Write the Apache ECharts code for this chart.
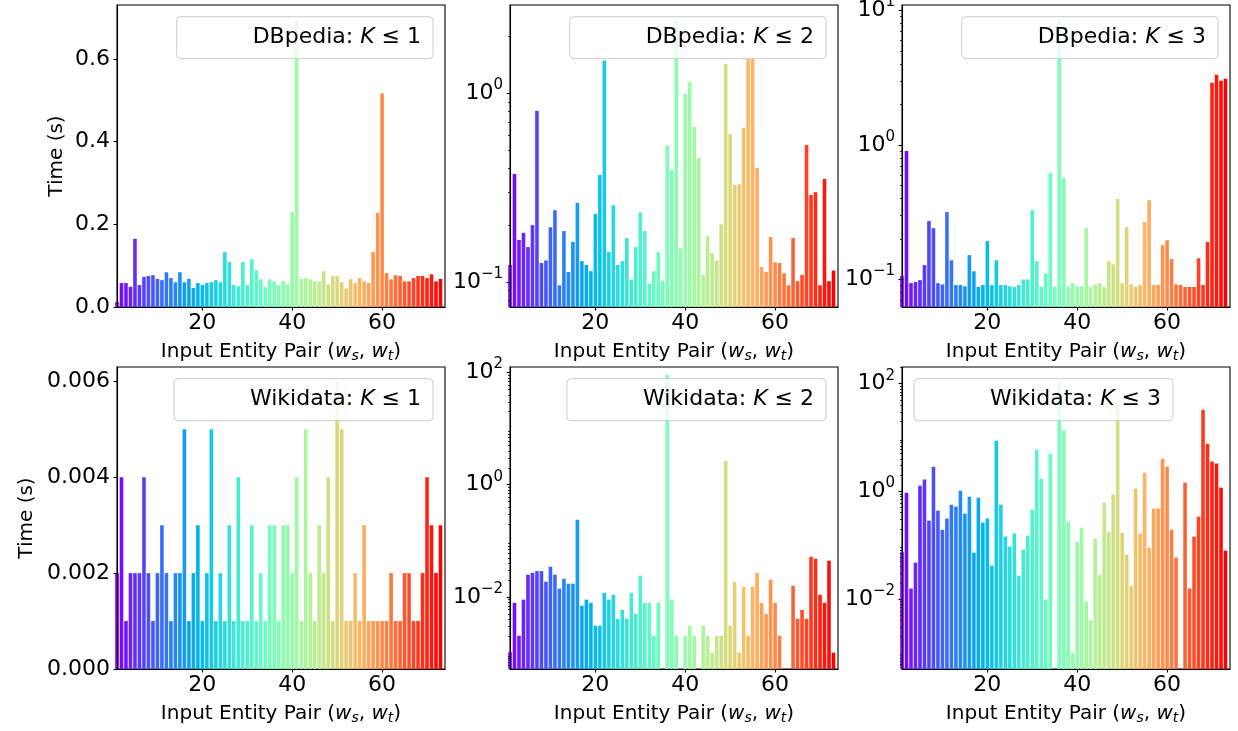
<!DOCTYPE html>
<html><head><meta charset="utf-8">
<script src="https://cdn.jsdelivr.net/npm/echarts@6/dist/echarts.min.js"></script>
<style>html,body{margin:0;padding:0;background:#fff}#c{width:1238px;height:731px}</style>
</head><body><div id="c"></div>
<script>
// ---------------- DATA ----------------
const pairIds = [1,2,3,4,5,6,7,8,9,10,11,12,13,14,15,16,17,18,19,20,21,22,23,24,25,26,27,28,29,30,31,32,33,34,35,36,37,38,39,40,41,42,43,44,45,46,47,48,49,50,51,52,53,54,55,56,57,58,59,60,61,62,63,64,65,66,67,68,69,70,71,72,73];
const xTicks = [20, 40, 60];

const dbpediaK1 = [0.012,0.058,0.058,0.049,0.165,0.053,0.073,0.075,0.077,0.068,0.065,0.084,0.070,0.060,0.084,0.060,0.068,0.046,0.058,0.053,0.058,0.060,0.065,0.060,0.133,0.109,0.053,0.050,0.109,0.053,0.116,0.089,0.067,0.048,0.067,0.062,0.053,0.062,0.055,0.230,0.696,0.068,0.070,0.067,0.062,0.062,0.087,0.055,0.075,0.075,0.060,0.045,0.067,0.058,0.070,0.062,0.058,0.133,0.228,0.517,0.082,0.067,0.077,0.075,0.062,0.062,0.070,0.075,0.075,0.070,0.079,0.062,0.068];
const dbpediaK2 = [0.123,0.373,0.167,0.182,0.153,0.200,0.806,0.126,0.130,0.195,0.240,0.096,0.186,0.113,0.163,0.262,0.129,0.123,0.114,0.229,0.369,1.49,0.144,0.255,0.123,0.129,0.171,0.103,0.153,0.234,0.186,0.098,0.114,0.144,0.101,0.525,0.392,2.45,0.151,0.99,1.15,0.663,0.454,0.109,0.175,0.142,0.130,0.202,1.43,0.608,0.326,0.330,0.655,1.53,1.55,0.401,0.120,0.113,0.173,0.127,0.126,0.111,0.096,0.171,0.101,0.109,0.532,0.289,0.299,0.096,0.351,0.101,0.115];
const dbpediaK3 = [0.106,0.902,0.094,0.096,0.099,0.128,0.272,0.241,0.094,0.092,0.317,0.139,0.091,0.091,0.089,0.152,0.115,0.088,0.091,0.193,0.091,0.139,0.091,0.091,0.089,0.088,0.091,0.100,0.100,0.328,0.137,0.088,0.111,0.619,0.088,8.5,0.568,0.088,0.094,0.089,0.089,0.241,0.088,0.092,0.094,0.088,0.137,0.130,0.396,0.094,0.245,0.092,0.088,0.091,0.267,0.389,0.091,0.091,0.180,0.196,0.142,0.092,0.091,0.088,0.088,0.088,0.144,0.091,0.190,2.90,3.32,3.0,3.10];
const wikidataK1 = [0.002,0.004,0.001,0.002,0.002,0.002,0.004,0.002,0.001,0.002,0.003,0.002,0.001,0.002,0.002,0.005,0.001,0.002,0.003,0.001,0.002,0.005,0.001,0.002,0.001,0.003,0.001,0.004,0.001,0.001,0.003,0.001,0.002,0.001,0.003,0.003,0.001,0.003,0.003,0.002,0.004,0.001,0.005,0.002,0.001,0.003,0.002,0.004,0.001,0.006,0.005,0.001,0.001,0.002,0.001,0.003,0.001,0.001,0.001,0.001,0.001,0.002,0.001,0.001,0.002,0.002,0.001,0.001,0.002,0.004,0.003,0.002,0.003];
const wikidataK2 = [0.00104,0.0079,0.00205,0.0090,0.025,0.027,0.029,0.029,0.0188,0.0347,0.025,0.0141,0.0212,0.0173,0.0173,0.238,0.0070,0.0090,0.0079,0.0031,0.0031,0.0119,0.0090,0.0110,0.0041,0.0059,0.0041,0.0119,0.0050,0.024,0.0079,0.0079,0.00205,0.0079,null,90,0.0090,0.00205,null,0.00205,0.0031,0.00205,null,0.0031,0.00205,0.00102,0.00205,0.00205,2.67,0.0031,0.0188,0.00102,0.0153,0.00205,0.0153,0.0271,0.0079,0.0050,0.0204,0.0079,0.00205,null,null,0.0159,0.0041,0.0059,0.0041,0.0523,0.0481,0.0110,0.0079,0.0444,0.00102];
const wikidataK3 = [0.0736,0.94,0.0156,0.0473,1.27,1.65,0.285,2.87,0.437,0.194,0.311,0.565,0.519,1.03,0.385,0.796,0.0726,0.763,0.262,0.311,0.0416,8.73,0.565,0.144,0.0938,0.164,0.0271,0.0825,0.150,0.456,5.94,1.72,0.0097,5.01,null,105,13.4,0.273,0.0010,0.116,0.211,0.0089,0.0040,0.132,0.0283,0.616,0.178,0.867,42,0.171,0.0666,0.0177,1.12,0.164,2.22,0.0899,0.476,0.476,4.04,2.87,0.194,0.0586,null,1.45,0.0156,0.144,0.338,32.9,7.68,3.56,3.27,1.17,0.0791];

const ticksDbK1 = [0, 0.2, 0.4, 0.6];
const ticksDbK2 = [0.1, 1];
const ticksDbK3 = [0.1, 1, 10];
const ticksWdK1 = [0, 0.002, 0.004, 0.006];
const ticksWdK2 = [0.01, 1, 100];
const ticksWdK3 = [0.01, 1, 100];

// ---------------- LAYOUT / STYLE ----------------
const FONT = 'DejaVu Sans';
const colLeft = [117, 510, 902];
const rowTop = [5, 367];
const GW = 328, GH = 302;
const XMIN = 1, XMAX = 74;
const barW = GW / (XMAX - XMIN) * 0.8;

function rainbow(t) {
  const r = Math.min(1, Math.abs(2 * t - 0.5));
  const g = Math.max(0, Math.sin(Math.PI * t));
  const b = Math.max(0, Math.cos(Math.PI * t / 2));
  return 'rgb(' + Math.round(r * 255) + ',' + Math.round(g * 255) + ',' + Math.round(b * 255) + ')';
}
const barColors = pairIds.map((_, i) => rainbow(i / (pairIds.length - 1)));

const panels = [
  { name: 'DBpedia', k: 1, values: dbpediaK1, log: false, min: 0, max: 0.731, ticks: ticksDbK1, dec: 1, leg: 'right' },
  { name: 'DBpedia', k: 2, values: dbpediaK2, log: true, min: 0.0737, max: 2.93, ticks: ticksDbK2, leg: 'right' },
  { name: 'DBpedia', k: 3, values: dbpediaK3, log: true, min: 0.0625, max: 10.97, ticks: ticksDbK3, leg: 'right' },
  { name: 'Wikidata', k: 1, values: wikidataK1, log: false, min: 0, max: 0.0063, ticks: ticksWdK1, dec: 3, leg: 'right' },
  { name: 'Wikidata', k: 2, values: wikidataK2, log: true, min: 0.000524, max: 124.8, ticks: ticksWdK2, leg: 'right' },
  { name: 'Wikidata', k: 3, values: wikidataK3, log: true, min: 0.0005, max: 204, ticks: ticksWdK3, leg: 'left' }
];

const ctx = document.createElement('canvas').getContext('2d');
function textW(font, s) { ctx.font = font; return ctx.measureText(s).width; }

const axisLineStyle = { color: '#000', width: 1.1 };
const option = { animation: false, backgroundColor: '#fff', grid: [], xAxis: [], yAxis: [], series: [], graphic: [] };

panels.forEach((p, i) => {
  const col = i % 3, row = Math.floor(i / 3);
  const left = colLeft[col], top = rowTop[row];
  option.grid.push({ left: left, top: top, width: GW, height: GH, show: true, borderColor: '#000', borderWidth: 1.1,
    backgroundColor: 'transparent', containLabel: false, outerBoundsMode: 'none' });

  option.xAxis.push({
    type: 'value', gridIndex: i, min: XMIN, max: XMAX, z: 5,
    axisLine: { show: true, onZero: false, lineStyle: axisLineStyle },
    axisTick: { show: true, length: 3.5, lineStyle: axisLineStyle, customValues: xTicks },
    axisLabel: { customValues: xTicks, fontSize: 22, fontFamily: FONT, color: '#000', margin: 5 },
    splitLine: { show: false },
    name: '{n|Input Entity Pair (}{i|w}{s|s}{n|, }{i|w}{s|t}{n|)}',
    nameLocation: 'middle', nameGap: 33,
    nameTextStyle: { rich: {
      n: { fontSize: 20, fontFamily: FONT, color: '#000' },
      i: { fontSize: 20, fontFamily: FONT, fontStyle: 'italic', color: '#000' },
      s: { fontSize: 14, fontFamily: FONT, fontStyle: 'italic', color: '#000', padding: [9, 0, 0, 0] }
    } }
  });

  const yBase = {
    gridIndex: i, min: p.min, max: p.max, z: 5,
    axisLine: { show: true, onZero: false, lineStyle: axisLineStyle },
    splitLine: { show: false },
    nameTextStyle: { fontSize: 20, fontFamily: FONT, color: '#000' }
  };
  if (col === 0) {
    yBase.name = 'Time (s)';
    yBase.nameLocation = 'middle';
    yBase.nameRotate = 90;
    yBase.nameGap = row === 0 ? 50 : 80;
  }
  if (p.log) {
    Object.assign(yBase, {
      type: 'log', logBase: 10, startValue: p.min,
      axisTick: { show: true, length: 3.5, lineStyle: axisLineStyle, customValues: p.ticks },
      minorTick: { show: true, splitNumber: 9, length: 2, lineStyle: { color: '#000', width: 0.8 } },
      axisLabel: {
        customValues: p.ticks, margin: 7, color: '#000',
        formatter: v => {
          const lg = Math.log10(v), e = Math.round(lg);
          if (Math.abs(lg - e) > 1e-6) return '';
          return '{b|10}{e|' + (e < 0 ? '\u2212' + (-e) : e) + '}';
        },
        rich: {
          b: { fontSize: 22, fontFamily: FONT, color: '#000' },
          e: { fontSize: 15, fontFamily: FONT, color: '#000', padding: [0, 0, 16, 0] }
        }
      }
    });
  } else {
    Object.assign(yBase, {
      type: 'value',
      axisTick: { show: true, length: 3.5, lineStyle: axisLineStyle, customValues: p.ticks },
      axisLabel: { customValues: p.ticks, margin: 7, fontSize: 22, fontFamily: FONT, color: '#000',
        formatter: v => v.toFixed(p.dec) }
    });
  }
  option.yAxis.push(yBase);

  // bars: skip pairs with no recorded value (not drawable on a log axis)
  const items = [];
  pairIds.forEach((x, j) => {
    if (p.values[j] != null) items.push({ value: [x, p.values[j]], itemStyle: { color: barColors[j] } });
  });
  option.series.push({
    type: 'bar', xAxisIndex: i, yAxisIndex: i, barWidth: barW, clip: true, silent: true,
    data: items
  });

  // legend box (matplotlib-like, semi-transparent over the bars)
  const nFont = '22px "' + FONT + '"', iFont = 'italic 22px "' + FONT + '"';
  const tw = textW(nFont, p.name + ': ') + textW(iFont, 'K') + textW(nFont, ' \u2264 ' + p.k);
  const bw = tw + 88, bh = 42;
  const bx = p.leg === 'right' ? left + GW - 12 - bw : left + 12;
  const by = top + 11.7;
  option.graphic.push({
    type: 'group', z: 100,
    children: [
      { type: 'rect', z: 100, shape: { x: bx, y: by, width: bw, height: bh, r: 4 },
        style: { fill: 'rgba(255,255,255,0.8)', stroke: '#cccccc', lineWidth: 1 } },
      { type: 'text', z: 101, style: {
        x: bx + bw - 12, y: by + bh / 2, align: 'right', verticalAlign: 'middle',
        text: '{n|' + p.name + ': }{i|K}{n| \u2264 ' + p.k + '}',
        rich: {
          n: { fontSize: 22, fontFamily: FONT, fill: '#000', color: '#000' },
          i: { fontSize: 22, fontFamily: FONT, fontStyle: 'italic', fill: '#000', color: '#000' }
        } } }
    ]
  });
});

const chart = echarts.init(document.getElementById('c'), null, { renderer: 'canvas' });
chart.setOption(option);
</script>
</body></html>
